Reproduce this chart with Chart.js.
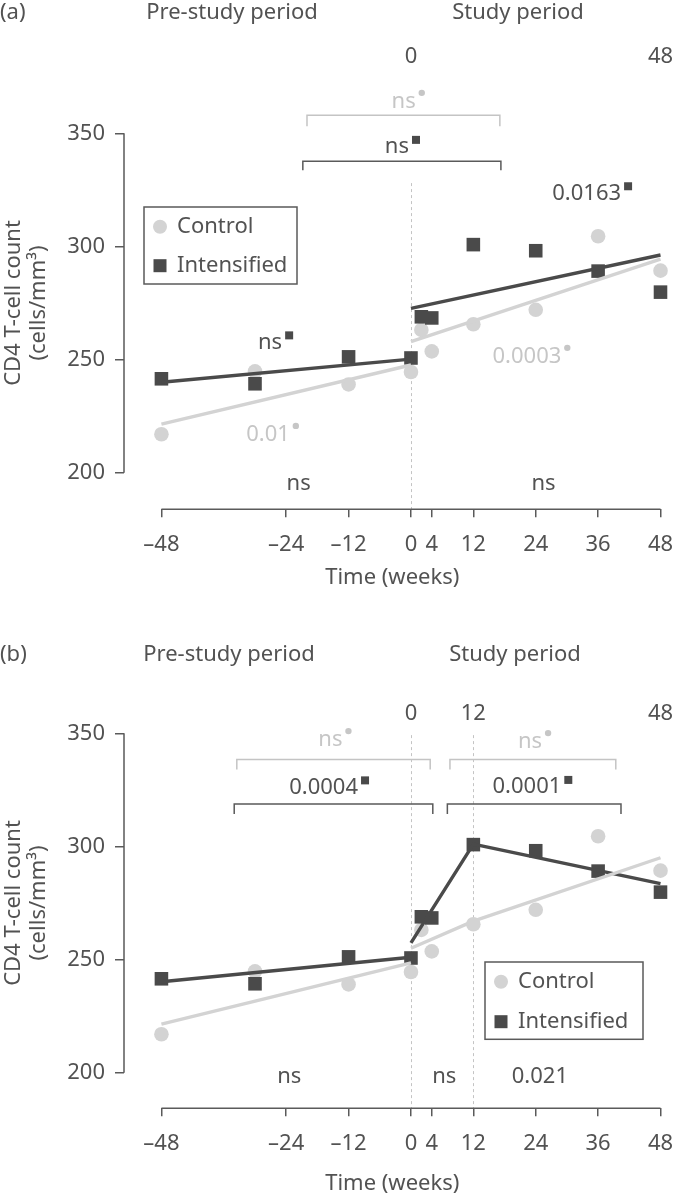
<!DOCTYPE html>
<html>
<head>
<meta charset="utf-8">
<title>CD4 T-cell count by study period</title>
<script src="https://cdn.jsdelivr.net/npm/chart.js@4.4.0/dist/chart.umd.min.js"></script>
<style>
  html, body { margin: 0; padding: 0; background: #fff; }
  canvas { display: block; }
</style>
</head>
<body>
<canvas id="panelA" width="677" height="600"></canvas>
<canvas id="panelB" width="677" height="599"></canvas>
<script>
// visit weeks and mean CD4 counts (cells/mm3), same in both panels
const weeks = [-48, -30, -12, 0, 2, 4, 12, 24, 36, 48];
const controlCD4 = [217, 244.8, 239, 244.5, 263.1, 253.6, 265.6, 272, 304.5, 289.3];
const intensifiedCD4 = [241.5, 239.3, 251.2, 250.7, 268.9, 268.4, 300.8, 298.1, 289.1, 279.8];

// fitted lines, panel (a): one slope per period
const preWeeks = [-48, 0];
const studyWeeksA = [0, 48];
const controlPreA = [221.5, 247.6];
const intensifiedPreA = [240, 250.2];
const controlStudyA = [257.9, 294.4];
const intensifiedStudyA = [272.6, 296.2];

// panel (b): study period broken at week 12
const studyWeeksB = [0, 12, 48];
const controlPreB = [221.5, 248.5];
const intensifiedPreB = [240.2, 251];
const controlStudyB = [255, 267, 295];
const intensifiedStudyB = [257.4, 301, 283.6];

const xTicks = [-48, -24, -12, 0, 4, 12, 24, 36, 48];
const yTicks = [200, 250, 300, 350];
const topTicksA = [0, 48];
const topTicksB = [0, 12, 48];

const ink = '#525252';
const dark = '#4a4a4a';
const light = '#d3d3d3';
const lightText = '#c6c6c6';
const axisColor = '#5a5a5a';
const guideColor = '#c4c4c4';

Chart.defaults.font.family = "'Noto Sans', sans-serif";
Chart.defaults.font.size = 22;
Chart.defaults.color = ink;

const pts = (xs, ys) => xs.map((x, i) => ({ x: x, y: ys[i] }));
const weekLabel = v => v < 0 ? '\u2013' + Math.abs(v) : String(v);

const annotate = {
  id: 'annotate',
  beforeDatasetsDraw(chart, args, opts) {
    const { ctx, chartArea: area, scales: { x, y } } = chart;
    ctx.save();
    // dotted guides at period boundaries
    ctx.strokeStyle = guideColor;
    ctx.lineWidth = 1;
    ctx.setLineDash([3, 3]);
    opts.guides.forEach(g => {
      const px = Math.round(x.getPixelForValue(g.x)) + 0.5;
      ctx.beginPath();
      ctx.moveTo(px, y.getPixelForValue(g.top));
      ctx.lineTo(px, area.bottom);
      ctx.stroke();
    });
    ctx.setLineDash([]);
    // axis lines only span the tick range
    ctx.strokeStyle = axisColor;
    ctx.lineWidth = 1.5;
    ctx.beginPath();
    ctx.moveTo(area.left, y.getPixelForValue(yTicks[0]));
    ctx.lineTo(area.left, y.getPixelForValue(yTicks[yTicks.length - 1]));
    ctx.moveTo(x.getPixelForValue(xTicks[0]), area.bottom);
    ctx.lineTo(x.getPixelForValue(xTicks[xTicks.length - 1]), area.bottom);
    ctx.stroke();
    ctx.restore();
  },
  afterDatasetsDraw(chart, args, opts) {
    const { ctx, scales: { x, y } } = chart;
    ctx.save();
    ctx.lineWidth = 1.5;
    opts.brackets.forEach(b => {
      ctx.strokeStyle = b.tone === 'light' ? guideColor : axisColor;
      const top = y.getPixelForValue(b.y);
      const foot = y.getPixelForValue(b.y - b.drop);
      ctx.beginPath();
      ctx.moveTo(x.getPixelForValue(b.from), foot);
      ctx.lineTo(x.getPixelForValue(b.from), top);
      ctx.lineTo(x.getPixelForValue(b.to), top);
      ctx.lineTo(x.getPixelForValue(b.to), foot);
      ctx.stroke();
    });

    ctx.font = "22px 'Noto Sans', sans-serif";
    ctx.textAlign = 'center';
    ctx.textBaseline = 'middle';
    opts.notes.forEach(n => {
      const px = x.getPixelForValue(n.x);
      const py = y.getPixelForValue(n.y);
      ctx.fillStyle = n.tone === 'light' ? lightText : ink;
      ctx.fillText(n.text, px, py);
      if (!n.mark) return;
      const right = px + ctx.measureText(n.text).width / 2;
      if (n.mark === 'square') {
        ctx.fillStyle = dark;
        ctx.fillRect(right + 3, py - 11, 8, 8);
      } else {
        ctx.fillStyle = lightText;
        ctx.beginPath();
        ctx.arc(right + 6, py - 9, 3.2, 0, Math.PI * 2);
        ctx.fill();
      }
    });

    // legend box
    const lg = opts.legend;
    ctx.strokeStyle = axisColor;
    ctx.strokeRect(lg.left, lg.top, lg.width, lg.height);
    ctx.textAlign = 'left';
    chart.data.datasets.filter(d => d.type === 'scatter').forEach((d, i) => {
      const cx = lg.left + 16;
      const cy = lg.top + 19.7 + i * lg.rowGap;
      ctx.fillStyle = d.backgroundColor;
      if (d.pointStyle === 'rect') {
        ctx.fillRect(cx - 6.5, cy - 6.5, 13, 13);
      } else {
        ctx.beginPath();
        ctx.arc(cx, cy, 7, 0, Math.PI * 2);
        ctx.fill();
      }
      ctx.fillStyle = ink;
      ctx.fillText(d.label, cx + 17, cy);
    });
    ctx.restore();
  },
  afterDraw(chart, args, opts) {
    const { ctx, scales: { y } } = chart;
    ctx.save();
    ctx.font = "22px 'Noto Sans', sans-serif";
    ctx.fillStyle = ink;
    ctx.textBaseline = 'middle';
    opts.header.forEach(h => {
      ctx.textAlign = h.align || 'center';
      ctx.fillText(h.text, h.x, opts.headerY);
    });
    // two-line y title, centred on the 200-350 range
    const mid = y.getPixelForValue((yTicks[0] + yTicks[yTicks.length - 1]) / 2);
    ctx.textAlign = 'center';
    [['CD4 T-cell count', 14], ['(cells/mm\u00b3)', 39]].forEach(([t, tx]) => {
      ctx.save();
      ctx.translate(tx, mid);
      ctx.rotate(-Math.PI / 2);
      ctx.fillText(t, 0, 0);
      ctx.restore();
    });
    ctx.restore();
  }
};

function buildPanel(canvasId, setup) {
  const height = document.getElementById(canvasId).height;
  // y pixels of the 200 and 350 ticks fix the scale
  const perUnit = (472.7 - 133.3) / 150;
  const yMin = 200 - (setup.plotBottom - 472.7) / perUnit;
  const yMax = 350 + (133.3 - setup.plotTop) / perUnit;
  const xMin = -55.2;
  const xMax = 48;

  const fit = (label, xs, ys, color, order) => ({
    type: 'line', label: label, data: pts(xs, ys), borderColor: color,
    borderWidth: 3.4, pointRadius: 0, tension: 0, fill: false, order: order, clip: false
  });

  return new Chart(document.getElementById(canvasId), {
    type: 'scatter',
    data: {
      datasets: [
        fit('control pre', preWeeks, setup.controlPre, light, 0),
        fit('control study', setup.studyWeeks, setup.controlStudy, light, 0),
        fit('intensified pre', preWeeks, setup.intensifiedPre, dark, 1),
        fit('intensified study', setup.studyWeeks, setup.intensifiedStudy, dark, 1),
        {
          type: 'scatter', label: 'Control', data: pts(weeks, controlCD4),
          backgroundColor: light, borderWidth: 0, pointStyle: 'circle', pointRadius: 7.3, order: 3, clip: false
        },
        {
          type: 'scatter', label: 'Intensified', data: pts(weeks, intensifiedCD4),
          backgroundColor: dark, borderWidth: 0, pointStyle: 'rect', pointRadius: 9.6, order: 2, clip: false
        }
      ]
    },
    options: {
      responsive: false,
      animation: false,
      events: [],
      layout: { padding: { left: 0, right: 16.5, top: 0, bottom: 0 } },
      plugins: {
        legend: { display: false },
        tooltip: { enabled: false },
        annotate: setup.annotate
      },
      scales: {
        x: {
          type: 'linear', position: 'bottom', min: xMin, max: xMax,
          afterBuildTicks: s => { s.ticks = xTicks.map(v => ({ value: v })); },
          afterFit: s => { s.height = height - setup.plotBottom; s.paddingLeft = 0; s.paddingRight = 0; },
          border: { display: false },
          grid: { drawOnChartArea: false, tickLength: 8, color: axisColor, lineWidth: 1.5 },
          ticks: { padding: 14, autoSkip: false, maxRotation: 0, callback: weekLabel },
          title: { display: true, text: 'Time (weeks)', padding: { top: 0, bottom: setup.titlePad } }
        },
        x2: {
          type: 'linear', position: 'top', min: xMin, max: xMax,
          afterBuildTicks: s => { s.ticks = setup.topTicks.map(v => ({ value: v })); },
          afterFit: s => { s.height = setup.plotTop; s.paddingLeft = 0; s.paddingRight = 0; },
          border: { display: false },
          grid: { display: false, drawTicks: false },
          ticks: { padding: setup.topPad, autoSkip: false, maxRotation: 0 }
        },
        y: {
          type: 'linear', position: 'left', min: yMin, max: yMax,
          afterBuildTicks: s => { s.ticks = yTicks.map(v => ({ value: v })); },
          afterFit: s => { s.width = 124; s.paddingTop = 0; s.paddingBottom = 0; },
          border: { display: false },
          grid: { drawOnChartArea: false, tickLength: 9, color: axisColor, lineWidth: 1.5 },
          ticks: { padding: 10 }
        }
      }
    },
    plugins: [annotate]
  });
}

buildPanel('panelA', {
  plotTop: 80, plotBottom: 509.3, topPad: 9.8, titlePad: 8.8,
  topTicks: topTicksA,
  studyWeeks: studyWeeksA,
  controlPre: controlPreA, intensifiedPre: intensifiedPreA,
  controlStudy: controlStudyA, intensifiedStudy: intensifiedStudyA,
  annotate: {
    headerY: 13,
    header: [
      { text: '(a)', x: 0, align: 'left' },
      { text: 'Pre-study period', x: 232 },
      { text: 'Study period', x: 518 }
    ],
    guides: [{ x: 0, top: 328 }],
    brackets: [
      { from: -20, to: 17.1, y: 358, drop: 4.9, tone: 'light' },
      { from: -20.8, to: 17.3, y: 337.7, drop: 4, tone: 'dark' }
    ],
    notes: [
      { text: 'ns', x: -1.4, y: 363.9, tone: 'light', mark: 'dot' },
      { text: 'ns', x: -2.7, y: 344, tone: 'dark', mark: 'square' },
      { text: '0.0163', x: 33.8, y: 323.5, tone: 'dark', mark: 'square' },
      { text: 'ns', x: -27.1, y: 257.6, tone: 'dark', mark: 'square' },
      { text: '0.01', x: -27.5, y: 216.7, tone: 'light', mark: 'dot' },
      { text: '0.0003', x: 22.3, y: 251.2, tone: 'light', mark: 'dot' },
      { text: 'ns', x: -21.6, y: 195, tone: 'dark' },
      { text: 'ns', x: 25.5, y: 195, tone: 'dark' }
    ],
    legend: { left: 144, top: 207, width: 153, height: 77, rowGap: 39 }
  }
});

buildPanel('panelB', {
  plotTop: 128, plotBottom: 508.3, topPad: 0.8, titlePad: 1.8,
  topTicks: topTicksB,
  studyWeeks: studyWeeksB,
  controlPre: controlPreB, intensifiedPre: intensifiedPreB,
  controlStudy: controlStudyB, intensifiedStudy: intensifiedStudyB,
  annotate: {
    headerY: 55,
    header: [
      { text: '(b)', x: 0, align: 'left' },
      { text: 'Pre-study period', x: 229 },
      { text: 'Study period', x: 515 }
    ],
    guides: [{ x: 0, top: 349.2 }, { x: 12, top: 349.2 }],
    brackets: [
      { from: -33.5, to: 3.7, y: 338.4, drop: 4.4, tone: 'light' },
      { from: 7.5, to: 39.4, y: 338.4, drop: 4.4, tone: 'light' },
      { from: -34, to: 4.2, y: 318.7, drop: 4.4, tone: 'dark' },
      { from: 7, to: 40.4, y: 318.7, drop: 4.4, tone: 'dark' }
    ],
    notes: [
      { text: 'ns', x: -15.5, y: 347, tone: 'light', mark: 'dot' },
      { text: 'ns', x: 22.9, y: 346.1, tone: 'light', mark: 'dot' },
      { text: '0.0004', x: -16.8, y: 326.1, tone: 'dark', mark: 'square' },
      { text: '0.0001', x: 22.3, y: 326.3, tone: 'dark', mark: 'square' },
      { text: 'ns', x: -23.4, y: 198.2, tone: 'dark' },
      { text: 'ns', x: 6.4, y: 198.2, tone: 'dark' },
      { text: '0.021', x: 24.8, y: 198.2, tone: 'dark' }
    ],
    legend: { left: 485, top: 362, width: 158, height: 77.3, rowGap: 40 }
  }
});
</script>
</body>
</html>
